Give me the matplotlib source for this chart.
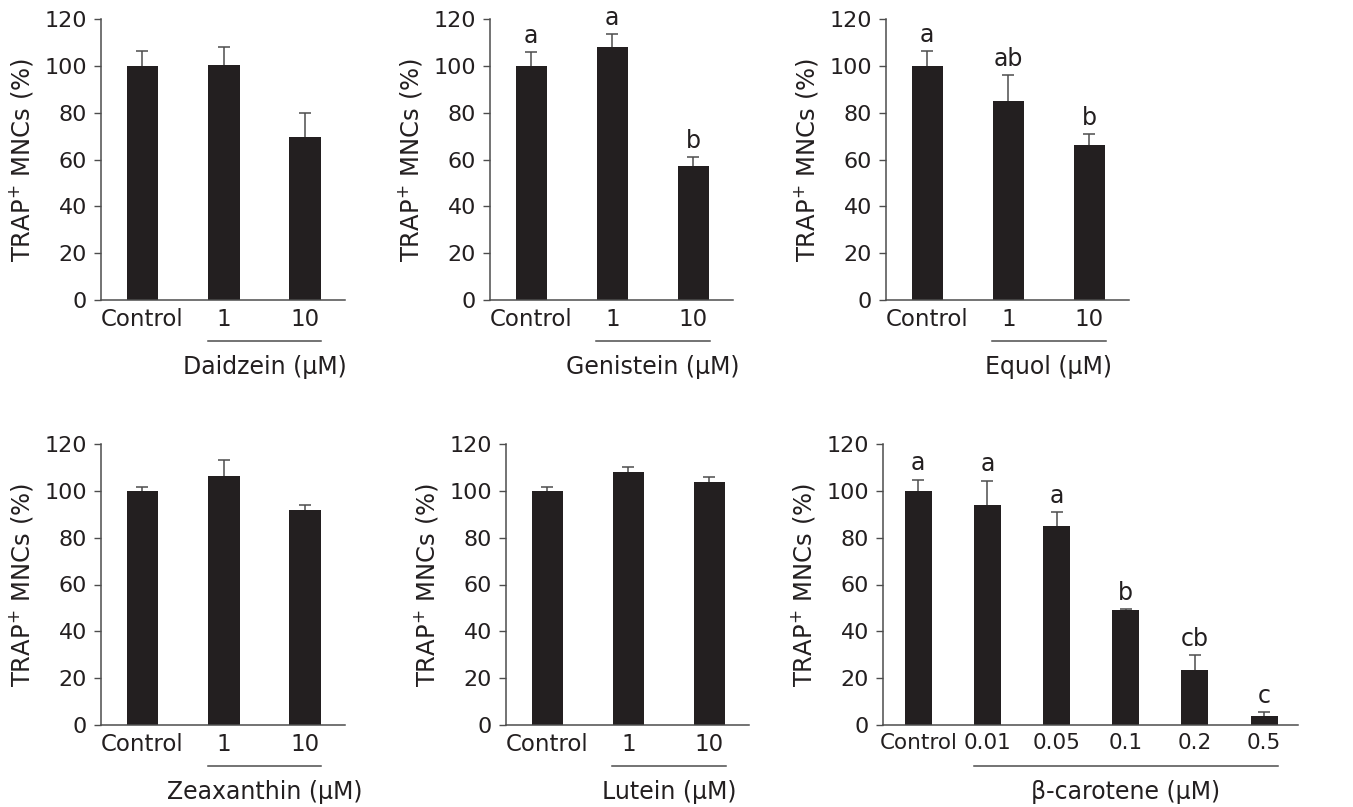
import numpy as np
import matplotlib
matplotlib.use("Agg")
import matplotlib.pyplot as plt

plt.rcParams["font.family"] = "DejaVu Sans"

# Data (% of control)
cats3 = ["Control", "1", "10"]
cats6 = ["Control", "0.01", "0.05", "0.1", "0.2", "0.5"]

daidzein = [100.0, 100.3, 69.6]
daidzein_err = [6.5, 7.7, 10.1]

genistein = [100.0, 108.0, 57.3]
genistein_err = [5.8, 5.4, 3.9]
genistein_sig = ["a", "a", "b"]

equol = [100.0, 85.0, 66.2]
equol_err = [6.4, 10.9, 4.5]
equol_sig = ["a", "ab", "b"]

zeaxanthin = [99.8, 106.5, 91.8]
zeaxanthin_err = [2.0, 6.5, 2.2]

lutein = [99.8, 107.9, 103.8]
lutein_err = [2.0, 2.3, 2.2]

carotene = [100.0, 94.0, 85.1, 48.9, 23.3, 3.7]
carotene_err = [4.8, 10.4, 5.8, 0.5, 6.7, 1.8]
carotene_sig = ["a", "a", "a", "b", "cb", "c"]

W, H = 1353, 807
BAR = "#231f20"
AXC = "#4d4d4d"

fig = plt.figure(figsize=(W / 100, H / 100), dpi=100)


def panel(box, cats, vals, errs, group, sig=None, xfs=16.5):
    # box: left, top, right, bottom in pixels
    l, t, r, b = box
    ax = fig.add_axes([l / W, 1 - b / H, (r - l) / W, (b - t) / H])
    x = np.arange(len(cats))
    _, caps, _ = ax.errorbar(x, vals, yerr=[np.zeros(len(vals)), errs], fmt="none",
                             ecolor=AXC, elinewidth=1.1, capsize=4.5, capthick=1.1,
                             zorder=1)
    caps[0].set_visible(False)  # only the upper cap is drawn
    ax.bar(x, vals, width=0.39, color=BAR, zorder=2)
    ax.set_xlim(-0.51, len(cats) - 0.51)
    ax.set_ylim(0, 120)
    ax.set_yticks(np.arange(0, 121, 20))
    ax.set_xticks(x)
    ax.set_xticklabels(cats)
    ax.tick_params(axis="x", length=0, pad=6, labelsize=xfs, labelcolor=BAR)
    ax.tick_params(axis="y", length=5, width=1, color=AXC, pad=5,
                   labelsize=16, labelcolor=BAR)
    for s in ["top", "right"]:
        ax.spines[s].set_visible(False)
    for s in ["left", "bottom"]:
        ax.spines[s].set_color(AXC)
        ax.spines[s].set_linewidth(1.1)
    ax.set_ylabel("TRAP$^{+}$ MNCs (%)", fontsize=17.5, color=BAR, labelpad=7)
    # treatment underline and group label
    trans = ax.get_xaxis_transform()
    ax.plot([1 - 0.2, len(cats) - 1 + 0.2], [-0.145, -0.145], color=AXC,
            lw=1.1, transform=trans, clip_on=False)
    ax.text((len(cats)) / 2, -0.24, group, transform=trans, ha="center",
            va="center", fontsize=17, color=BAR)
    if sig:
        for xi, v, e, s in zip(x, vals, errs, sig):
            ax.annotate(s, (xi, v + e), xytext=(0, 3), textcoords="offset points",
                        ha="center", va="bottom", fontsize=17, color=BAR)
    return ax


panel((101, 19, 345, 300), cats3, daidzein, daidzein_err, "Daidzein (µM)")
panel((490, 19, 733, 300), cats3, genistein, genistein_err, "Genistein (µM)", genistein_sig)
panel((886, 19, 1129, 300), cats3, equol, equol_err, "Equol (µM)", equol_sig)
panel((101, 444, 345, 725), cats3, zeaxanthin, zeaxanthin_err, "Zeaxanthin (µM)")
panel((506, 444, 749, 725), cats3, lutein, lutein_err, "Lutein (µM)")
panel((883, 444, 1298, 725), cats6, carotene, carotene_err, "β-carotene (µM)",
      carotene_sig, xfs=15.5)

fig.savefig("out.png", dpi=100)
